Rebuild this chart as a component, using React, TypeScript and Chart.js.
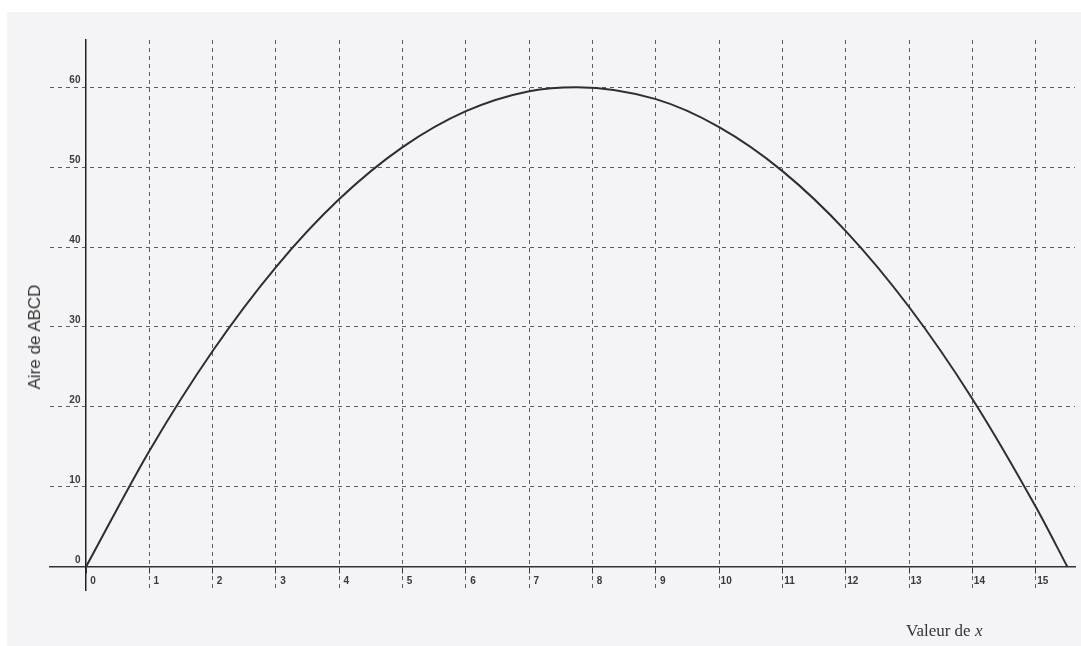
import React, { useEffect, useRef } from "react";
import { Chart, registerables } from "chart.js";

Chart.register(...registerables);

// Values
const xValues = [0, 1, 2, 3, 4, 5, 6, 7, 7.75, 9, 10, 11, 12, 13, 14, 15, 15.5];
const areaValues = [0, 14.5, 27, 37.5, 46, 52.5, 57, 59.5, 60, 58.5, 55, 49.5, 42, 32.5, 21, 7.5, 0];
const xTickValues = [0, 1, 2, 3, 4, 5, 6, 7, 8, 9, 10, 11, 12, 13, 14, 15];
const xTickLabels = ["0", "1", "2", "3", "4", "5", "6", "7", "8", "9", "10", "11", "12", "13", "14", "15"];
const yTickValues = [0, 10, 20, 30, 40, 50, 60];
const yTickLabels = ["0", "10", "20", "30", "40", "50", "60"];
const yTitle = "Aire de ABCD";
const xTitleText = "Valeur de ";
const xTitleVar = "x";

export default function App() {
  const canvasRef = useRef<HTMLCanvasElement | null>(null);

  useEffect(() => {
    const canvas = canvasRef.current;
    if (!canvas) return;
    const points = xValues.map((x, i) => ({ x, y: areaValues[i] }));
    const chart = new Chart(canvas, {
      type: "line",
      data: {
        datasets: [
          {
            data: points,
            borderColor: "#2e2e2e",
            borderWidth: 2,
            pointRadius: 0,
            tension: 0.4,
            cubicInterpolationMode: "monotone",
            fill: false,
          },
        ],
      },
      options: {
        animation: false,
        responsive: false,
        maintainAspectRatio: false,
        layout: { padding: { left: 50, right: 6, top: 40, bottom: 56 } },
        plugins: { legend: { display: false }, tooltip: { enabled: false } },
        scales: {
          x: {
            type: "linear",
            position: { y: 0 } as any,
            min: -0.569,
            max: 15.62,
            afterBuildTicks: (scale: any) => {
              scale.ticks = xTickValues.map((v) => ({ value: v }));
            },
            ticks: {
              autoSkip: false,
              maxRotation: 0,
              color: "#3a3a3a",
              font: { family: "Liberation Sans, Arial, sans-serif", size: 10, weight: "bold" },
              padding: 2,
              labelOffset: 7,
              callback: (v: any) => {
                const i = xTickValues.indexOf(Number(v));
                return i >= 0 ? xTickLabels[i] : "";
              },
            },
            grid: {
              color: (ctx: any) => (ctx.tick && ctx.tick.value === 0 ? "rgba(0,0,0,0)" : "#5e5e5e"),
              lineWidth: 1,
              drawTicks: true,
              tickLength: 6,
              tickColor: "#333",
            },
            border: { display: true, color: "#333", width: 1.5, dash: [4, 4] },
          },
          y: {
            type: "linear",
            position: { x: 0 } as any,
            min: -2.9,
            max: 65.9,
            afterBuildTicks: (scale: any) => {
              scale.ticks = yTickValues.map((v) => ({ value: v }));
            },
            ticks: {
              autoSkip: false,
              color: "#3a3a3a",
              font: { family: "Liberation Sans, Arial, sans-serif", size: 10, weight: "bold" },
              padding: 2,
              labelOffset: -7,
              callback: (v: any) => {
                const i = yTickValues.indexOf(Number(v));
                return i >= 0 ? yTickLabels[i] + "  " : "";
              },
            },
            grid: {
              color: (ctx: any) => (ctx.tick && ctx.tick.value === 0 ? "rgba(0,0,0,0)" : "#5e5e5e"),
              lineWidth: 1,
              drawTicks: false,
            },
            border: { display: true, color: "#222", width: 1.5, dash: [4, 4] },
          },
        },
      },
    });
    return () => chart.destroy();
  }, []);

  return (
    <div
      style={{
        position: "fixed",
        left: 0,
        top: 0,
        width: 1081,
        height: 646,
        background: "#ffffff",
        overflow: "hidden",
      }}
    >
      <div
        style={{
          position: "absolute",
          left: 7,
          top: 12,
          width: 1074,
          height: 634,
          background: "#f4f4f6",
        }}
      />
      <canvas
        ref={canvasRef}
        width={1081}
        height={646}
        style={{ position: "absolute", left: 0, top: 0, width: 1081, height: 646 }}
      />
      <div
        style={{
          position: "absolute",
          left: 35,
          top: 337,
          transform: "translate(-50%, -50%) rotate(-90deg)",
          whiteSpace: "nowrap",
          fontFamily: "Liberation Sans, Arial, sans-serif",
          fontSize: 17,
          color: "#333",
        }}
      >
        {yTitle}
      </div>
      <div
        style={{
          position: "absolute",
          left: 906,
          top: 621,
          whiteSpace: "nowrap",
          fontFamily: "Liberation Serif, Times New Roman, serif",
          fontSize: 17,
          color: "#333",
        }}
      >
        {xTitleText}
        <i>{xTitleVar}</i>
      </div>
    </div>
  );
}
